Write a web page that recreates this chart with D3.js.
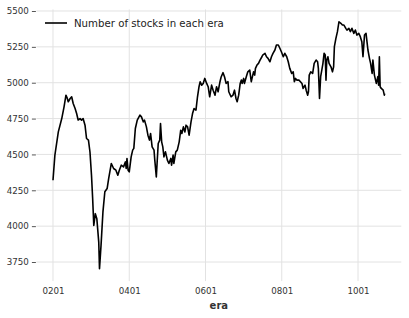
<!DOCTYPE html>
<html>
<head>
<meta charset="utf-8">
<script src="https://cdn.jsdelivr.net/npm/d3@7"></script>
<style>
  html, body { margin: 0; padding: 0; background: #fff; }
  text { font-family: "DejaVu Sans", sans-serif; }
</style>
</head>
<body>
<svg id="chart" width="409" height="318"></svg>
<script>
const eras = [
  201, 206, 215, 224, 230, 235, 238, 241, 246, 250, 254, 259, 263, 267, 272, 276, 280, 285, 289, 294,
  298, 302, 305, 308, 312, 316, 321, 323, 327, 332, 337, 343, 347, 354, 360, 366, 371, 375, 380, 386,
  391, 393, 395, 398, 401, 406, 410, 413, 417, 422, 429, 433, 438, 441, 446, 450, 454, 457, 461, 466,
  468, 472, 474, 477, 481, 483, 486, 489, 492, 496, 501, 505, 510, 512, 516, 518, 523, 527, 532, 536,
  539, 543, 547, 550, 554, 558, 563, 567, 571, 576, 580, 584, 587, 591, 595, 599, 604, 608, 612, 617,
  621, 626, 630, 634, 639, 642, 647, 651, 655, 660, 662, 668, 673, 677, 681, 684, 688, 692, 695, 697,
  701, 703, 708, 712, 717, 721, 723, 727, 730, 732, 736, 740, 744, 749, 751, 757, 761, 765, 770, 774,
  778, 783, 787, 792, 796, 800, 805, 809, 814, 818, 822, 827, 831, 834, 837, 841, 846, 850, 854, 857,
  862, 865, 869, 871, 873, 877, 882, 886, 891, 895, 897, 900, 903, 906, 909, 912, 915, 917, 919, 922,
  925, 930, 934, 937, 939, 943, 947, 951, 956, 960, 964, 969, 972, 977, 981, 985, 990, 994, 998, 1003,
  1007, 1011, 1014, 1018, 1022, 1025, 1027, 1031, 1034, 1036, 1038, 1040, 1044, 1047, 1049, 1053, 1055, 1057, 1059, 1062,
  1067, 1070, 1071
];

const stockCounts = [
  4320, 4495, 4657, 4750, 4832, 4913, 4895, 4867, 4890, 4902, 4855, 4820, 4785, 4740, 4750, 4739, 4750, 4704, 4611, 4600,
  4517, 4355, 4194, 4005, 4087, 4052, 3889, 3703, 3866, 4099, 4240, 4262, 4332, 4437, 4402, 4390, 4355, 4390, 4425, 4413,
  4448, 4402, 4472, 4390, 4378, 4483, 4530, 4542, 4681, 4739, 4774, 4762, 4727, 4739, 4692, 4634, 4600, 4646, 4553, 4530,
  4460, 4343, 4437, 4576, 4600, 4716, 4588, 4553, 4483, 4518, 4460, 4437, 4472, 4425, 4495, 4437, 4518, 4530, 4588, 4669,
  4646, 4692, 4657, 4704, 4692, 4634, 4727, 4785, 4820, 4809, 4902, 4972, 5007, 4983, 4995, 5030, 4995, 4972, 4902, 4983,
  4948, 4913, 4972, 4937, 5007, 5040, 5070, 5040, 4995, 5007, 4937, 4902, 4913, 4948, 4890, 4867, 4913, 4995, 5018, 4995,
  5030, 4995, 5042, 5076, 5088, 5007, 5030, 5076, 5053, 5100, 5123, 5135, 5158, 5181, 5193, 5205, 5181, 5170, 5146, 5181,
  5205, 5228, 5263, 5263, 5240, 5216, 5181, 5205, 5181, 5146, 5100, 5065, 5076, 5007, 5030, 5018, 5018, 5007, 4995, 4960,
  4983, 4948, 4913, 4937, 5053, 5076, 5065, 5135, 5158, 5146, 5100, 4890, 5042, 5088, 5135, 5205, 5193, 5018, 5158, 5181,
  5135, 5111, 5076, 5111, 5251, 5309, 5356, 5425, 5414, 5402, 5402, 5379, 5367, 5379, 5356, 5379, 5344, 5367, 5332, 5344,
  5321, 5286, 5181, 5332, 5344, 5274, 5228, 5170, 5135, 5100, 5065, 5158, 5053, 5018, 4995, 5042, 4983, 5181, 4972, 4960,
  4948, 4913, 4925
];

const xTicks = [201, 401, 601, 801, 1001];
const yTicks = [3750, 4000, 4250, 4500, 4750, 5000, 5250, 5500];
const seriesLabel = "Number of stocks in each era";
const xLabel = "era";

const svg = d3.select("#chart");

// matplotlib-style 5% padding around the data
const xExt = d3.extent(eras), yExt = d3.extent(stockCounts);
const xPad = (xExt[1] - xExt[0]) * 0.05, yPad = (yExt[1] - yExt[0]) * 0.05;

const plot = { left: 36.4, right: 401.3, top: 9.4, bottom: 281.1 };

const x = d3.scaleLinear()
  .domain([xExt[0] - xPad, xExt[1] + xPad])
  .range([plot.left, plot.right]);
const y = d3.scaleLinear()
  .domain([yExt[0] - yPad, yExt[1] + yPad])
  .range([plot.bottom, plot.top]);

const data = eras.map((e, i) => ({ era: e, n: stockCounts[i] }));

// grid
svg.append("g")
  .selectAll("line")
  .data(yTicks)
  .join("line")
  .attr("x1", plot.left).attr("x2", plot.right)
  .attr("y1", (d) => y(d)).attr("y2", (d) => y(d))
  .attr("stroke", "#e2e2e2").attr("stroke-width", 1);

svg.append("g")
  .selectAll("line")
  .data(xTicks)
  .join("line")
  .attr("x1", (d) => x(d)).attr("x2", (d) => x(d))
  .attr("y1", plot.top).attr("y2", plot.bottom)
  .attr("stroke", "#e2e2e2").attr("stroke-width", 1);

// y axis
const yAxis = svg.append("g")
  .attr("transform", `translate(${plot.left - 0.5},0)`)
  .call(d3.axisLeft(y).tickValues(yTicks).tickSize(4).tickPadding(3).tickFormat(d3.format("d")));
yAxis.select(".domain").remove();
yAxis.selectAll("line").attr("stroke", "#555");
yAxis.selectAll("text").attr("fill", "#333").attr("font-size", "8.7px");

// x axis
const xAxis = svg.append("g")
  .attr("transform", `translate(0,${plot.bottom})`)
  .call(d3.axisBottom(x).tickValues(xTicks).tickSize(0).tickPadding(7).tickFormat(d3.format("04d")));
xAxis.select(".domain").remove();
xAxis.selectAll("text").attr("fill", "#333").attr("font-size", "8.7px");

svg.append("text")
  .attr("x", (plot.left + plot.right) / 2)
  .attr("y", 309)
  .attr("text-anchor", "middle")
  .attr("font-size", "10px")
  .attr("font-weight", "bold")
  .attr("fill", "#333")
  .text(xLabel);

// series
svg.append("path")
  .datum(data)
  .attr("fill", "none")
  .attr("stroke", "#000")
  .attr("stroke-width", 1.6)
  .attr("stroke-linejoin", "round")
  .attr("d", d3.line().x((d) => x(d.era)).y((d) => y(d.n)));

// legend
const legend = svg.append("g").attr("transform", "translate(45,23)");
legend.append("line")
  .attr("x1", 0).attr("x2", 22)
  .attr("stroke", "#000").attr("stroke-width", 1.6);
legend.append("text")
  .attr("x", 29).attr("y", 3.7)
  .attr("font-size", "10.2px")
  .attr("fill", "#222")
  .text(seriesLabel);
</script>
</body>
</html>
